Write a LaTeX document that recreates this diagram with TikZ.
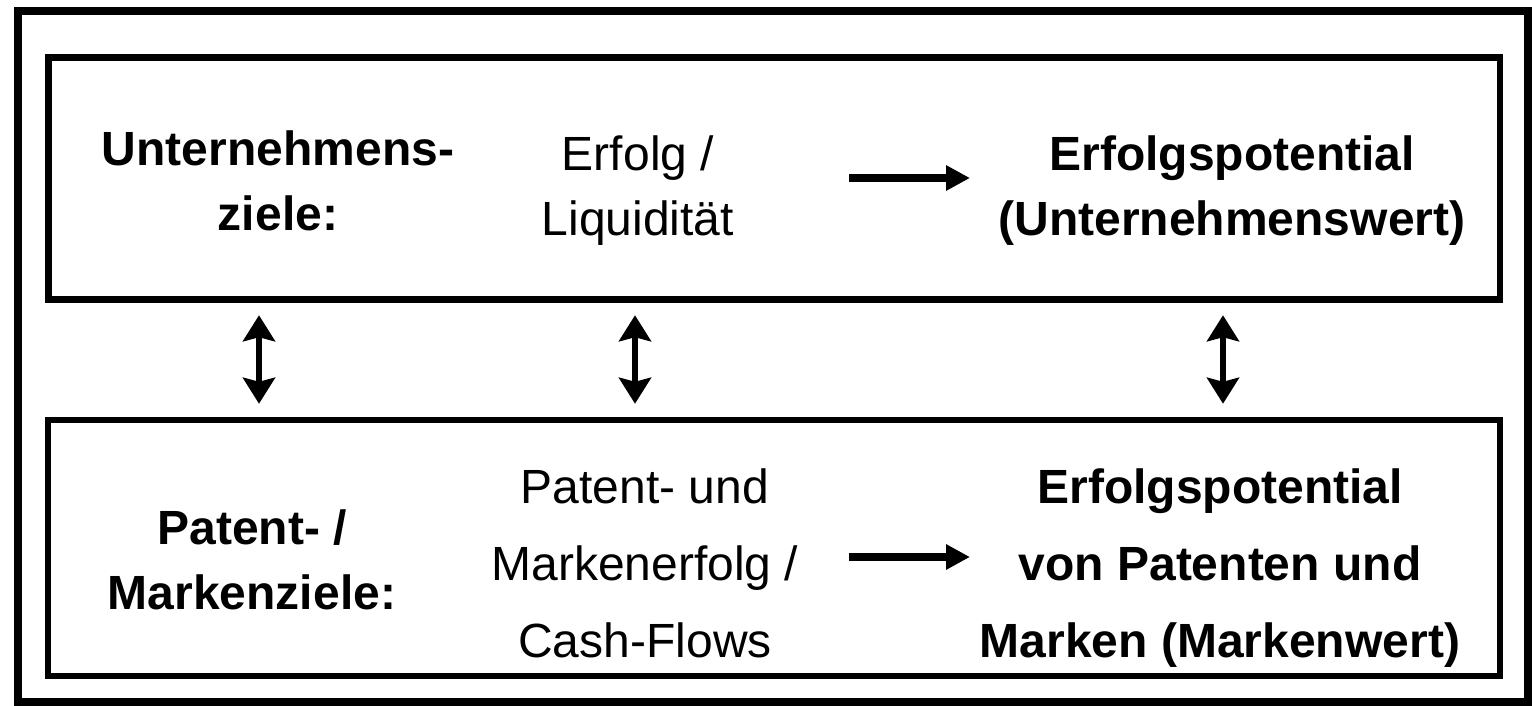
\documentclass[tikz,border=0pt]{standalone}
\usepackage{fontspec}
\setmainfont{Liberation Sans}
\usetikzlibrary{arrows.meta}

\begin{document}
\begin{tikzpicture}[x=0.5pt,y=-0.5pt,>={Triangle[length=12pt,width=12pt]}]
  \tikzstyle{zielbox}=[draw=black,line width=3.25pt,inner sep=0pt]
  \tikzstyle{txt}=[align=center,anchor=base,inner sep=0pt,font=\fontsize{24}{32.5}\selectfont]
  \tikzstyle{txtbf}=[txt,font=\fontsize{24}{32.5}\selectfont\bfseries]
  \tikzstyle{weit}=[txt,font=\fontsize{24}{38.5}\selectfont]
  \tikzstyle{weitbf}=[txt,font=\fontsize{24}{38.5}\selectfont\bfseries]
  \tikzstyle{pfeil}=[->,line width=4pt]
  \tikzstyle{doppel}=[{Stealth[length=13pt,width=16pt,inset=2pt]}-{Stealth[length=13pt,width=16pt,inset=2pt]},line width=3pt]

  \useasboundingbox (0,0) rectangle (1532,706);
  \draw[line width=4pt] (18,11.5) rectangle (1527.5,702);

  % die beiden Zielebenen
  \node[zielbox,minimum width=725.75pt,minimum height=121pt] (oben) at (774.25,178.5) {};
  \node[zielbox,minimum width=726pt,minimum height=128pt] (unten) at (774,548) {};

  % obere Ebene (Position = Grundlinie der letzten Zeile)
  \node[txtbf] (ziele) at (278,230) {Unternehmens-\\ziele:};
  \node[txt] (erfolg) at (638,235) {Erfolg /\\Liquidität};
  \node[txtbf] (potential) at (1232,235) {Erfolgspotential\\(Unternehmenswert)};

  % untere Ebene
  \node[txtbf] (pziele) at (252,609) {Patent- /\\Markenziele:};
  \node[weit] (perfolg) at (645,657) {Patent- und\\Markenerfolg /\\Cash-Flows};
  \node[weitbf] (ppotential) at (1220,657) {Erfolgspotential\\von Patenten und\\Marken (Markenwert)};

  % Pfeile
  \coordinate (o1) at (849,178);
  \coordinate (o2) at (970,178);
  \coordinate (u1) at (849,557);
  \coordinate (u2) at (970,557);
  \draw[pfeil] (o1) -- (o2);
  \draw[pfeil] (u1) -- (u2);

  \coordinate (k1) at (259,0);
  \coordinate (k2) at (635,0);
  \coordinate (k3) at (1223,0);
  \foreach \k in {k1,k2,k3}
    \draw[doppel,shorten <=6.25pt,shorten >=6.5pt] (oben.south -| \k) -- (unten.north -| \k);
\end{tikzpicture}
\end{document}
